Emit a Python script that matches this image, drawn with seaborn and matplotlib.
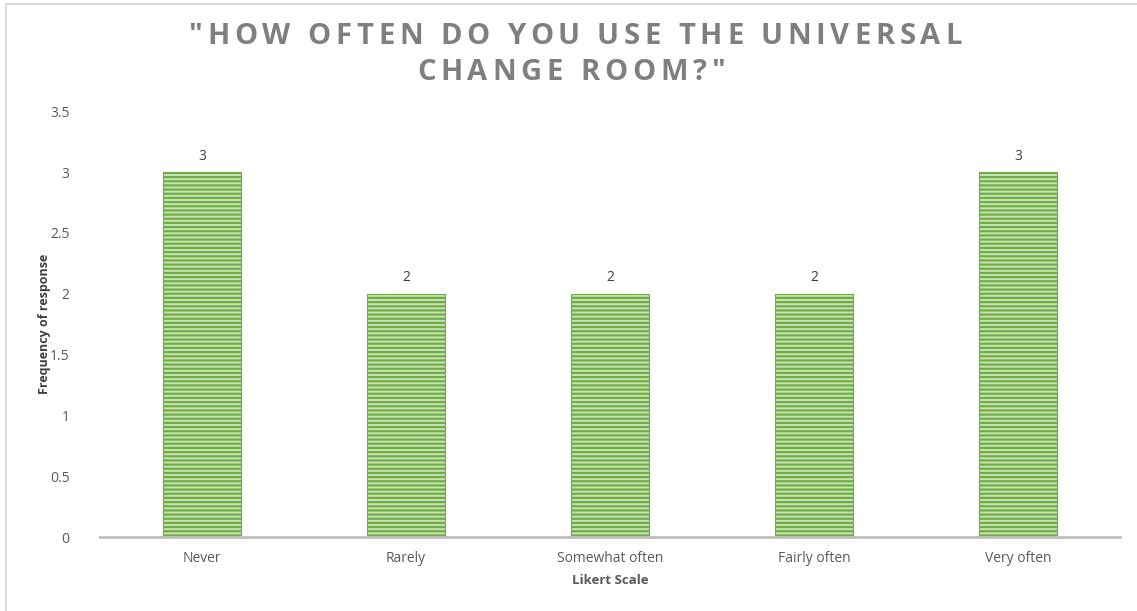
import matplotlib
matplotlib.use("Agg")
import matplotlib.pyplot as plt
from matplotlib.patches import Rectangle
import seaborn as sns
import pandas as pd

# Survey responses
categories = ["Never", "Rarely", "Somewhat often", "Fairly often", "Very often"]
frequencies = [3, 2, 2, 2, 3]
y_ticks = [0, 0.5, 1, 1.5, 2, 2.5, 3, 3.5]
y_tick_labels = ["0", "0.5", "1", "1.5", "2", "2.5", "3", "3.5"]

title_lines = ['"HOW OFTEN DO YOU USE THE UNIVERSAL', 'CHANGE ROOM?"']
x_label = "Likert Scale"
y_label = "Frequency of response"

sns.set_theme(style="white")
plt.rcParams["font.family"] = ["Open Sans", "DejaVu Sans"]
plt.rcParams["hatch.linewidth"] = 1.6
plt.rcParams["hatch.color"] = "#70AD47"

df = pd.DataFrame({"category": categories, "frequency": frequencies})

W, H = 1137, 611
fig = plt.figure(figsize=(W / 100, H / 100), dpi=100)
ax = fig.add_axes([0.088, 0.121, 0.897, 0.697])

sns.barplot(data=df, x="category", y="frequency", order=categories,
            color="#C9E3B5", width=0.38, saturation=1, ax=ax)

for bar in ax.patches:
    bar.set_hatch("----")
    bar.set_edgecolor("#70AD47")
    bar.set_linewidth(0.8)

for container in ax.containers:
    ax.bar_label(container, labels=[str(v) for v in frequencies], padding=6,
                 fontsize=10, color="#404040")

ax.set_xlim(-0.5, 4.5)
ax.set_ylim(0, 3.5)
ax.set_yticks(y_ticks)
ax.set_yticklabels(y_tick_labels)
ax.tick_params(axis="both", length=0, labelsize=10, colors="#595959")
ax.tick_params(axis="x", pad=10)
ax.tick_params(axis="y", pad=22)

for side in ["top", "right", "left"]:
    ax.spines[side].set_visible(False)
ax.spines["bottom"].set_color("#BFBFBF")
ax.spines["bottom"].set_linewidth(2)
ax.grid(False)

ax.set_xlabel(x_label, fontsize=9.5, fontweight="bold", color="#595959", labelpad=6)
ax.set_ylabel(y_label, fontsize=9, fontweight="bold", color="#404040", labelpad=-1)


def tracked_text(fig, line, center_x, center_y, tracking, **kw):
    """Draw a line of text with extra spacing between letters (pixel units)."""
    renderer = fig.canvas.get_renderer()

    def width(s):
        t = fig.text(0, 0, s + "H", **kw)
        w = t.get_window_extent(renderer).width
        t.remove()
        return w

    base = width("")
    offsets = [width(line[:i]) - base + i * tracking for i in range(len(line))]
    total = width(line) - base + (len(line) - 1) * tracking
    x0 = center_x - total / 2
    for ch, off in zip(line, offsets):
        if ch != " ":
            fig.text((x0 + off) / W, center_y / H, ch, ha="left", va="center", **kw)


title_style = dict(fontsize=21, fontweight="bold", color="#7F7F7F")
tracked_text(fig, title_lines[0], 575, H - 36, 4.8, **title_style)
tracked_text(fig, title_lines[1], 571, H - 72, 4.8, **title_style)

# Chart-area border (open toward the right and bottom edges)
fig.patches.append(Rectangle((0.0055, -0.1), 1.2, 1.0935, transform=fig.transFigure,
                             fill=False, edgecolor="#D9D9D9", linewidth=1.5))

fig.savefig("out.png", dpi=100, facecolor="white")
